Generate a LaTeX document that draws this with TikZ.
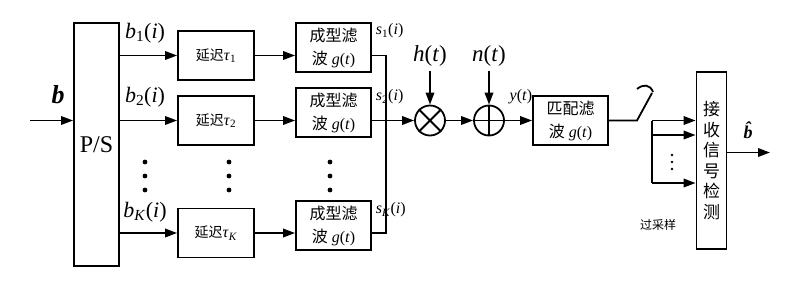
\documentclass[tikz,border=0pt]{standalone}
\usepackage{fontspec}
\setmainfont{Liberation Serif}
\newfontfamily\cjk{Noto Sans CJK SC}
\usetikzlibrary{arrows.meta}
\newcommand\fs[1]{\fontsize{#1}{#1}\selectfont}
\begin{document}
\begin{tikzpicture}[x=1pt,y=-1pt,line width=1.8pt,
  >={Triangle[length=12pt,width=8.5pt]},
  blk/.style={draw,fill=white,inner sep=0pt,align=center},
  dly/.style={blk,minimum width=76pt,minimum height=49pt},
  flt/.style={blk,minimum width=75pt,minimum height=49pt,font=\fs{16},execute at begin node={\setlength{\baselineskip}{23pt}}},
  lab/.style={inner sep=0pt},
  dotc/.style={fill=black}]
\useasboundingbox (0,0) rectangle (800,285);
% P/S
\node[blk,minimum width=45pt,minimum height=243pt,font=\fs{24}] (ps) at (96.5,144.5) {P/S};
\coordinate (in) at (30,120.5);
\draw[->] (in) -- (in -| ps.west);
\node[lab,font=\fs{26}\bfseries\itshape] (blab) at (58,95) {b};
% delays
\node[dly] (d1) at (216,55.5) {{\cjk\fs{14}延迟}\fs{16}\textit{τ}\textsubscript{1}};
\node[dly] (d2) at (216,120.5) {{\cjk\fs{14}延迟}\fs{16}\textit{τ}\textsubscript{2}};
\node[dly] (dK) at (216,233) {{\cjk\fs{14}延迟}\fs{16}\textit{τ}\textsubscript{\textit{K}}};
% filters
\node[flt] (f1) at (333.5,47.5) {{\cjk 成型滤}\\{\cjk 波} \textit{g}(\textit{t})};
\node[flt] (f2) at (333.5,112.5) {{\cjk 成型滤}\\{\cjk 波} \textit{g}(\textit{t})};
\node[flt] (fK) at (333.5,225.5) {{\cjk 成型滤}\\{\cjk 波} \textit{g}(\textit{t})};
% branch lines
\draw[->] (ps.east |- d1) -- (d1);
\draw[->] (ps.east |- d2) -- (d2);
\draw[->] (ps.east |- dK) -- (dK);
\draw[->] (d1) -- (d1 -| f1.west);
\draw[->] (d2) -- (d2 -| f2.west);
\draw[->] (dK) -- (dK -| fK.west);
% branch labels
\node[lab,font=\fs{22}] (lb1) at (145,33) {\textit{b}\textsubscript{1}(\textit{i})};
\node[lab,font=\fs{22}] (lb2) at (145,97) {\textit{b}\textsubscript{2}(\textit{i})};
\node[lab,font=\fs{22}] (lbK) at (145,212) {\textit{b}\textsubscript{\textit{K}}(\textit{i})};
% dots
\foreach \x in {145,229,330} \foreach \y in {162,176,190} \fill[dotc] (\x,\y) circle (2.4pt);
% bus
\coordinate (bus) at (386,0);
\draw (f1.east |- d1) -| (bus |- dK) -- (fK.east |- dK);
\node[lab,font=\fs{16},anchor=west] (s1) at (375,31) {\textit{s}\textsubscript{1}(\textit{i})};
\node[lab,font=\fs{16},anchor=west] (s2) at (375,97) {\textit{s}\textsubscript{2}(\textit{i})};
\node[lab,font=\fs{16},anchor=west] (sK) at (375,210) {\textit{s}\textsubscript{\textit{K}}(\textit{i})};
% multiplier and adder
\node[circle,draw,minimum size=30pt,inner sep=0pt] (mul) at (430,120.5) {};
\draw (mul.north west) -- (mul.south east) (mul.north east) -- (mul.south west);
\node[circle,draw,minimum size=30pt,inner sep=0pt] (add) at (489,120.5) {};
\draw (add.north) -- (add.south) (add.west) -- (add.east);
\node[lab,font=\fs{23}] (h) at (430,56) {\textit{h}(\textit{t})};
\node[lab,font=\fs{23}] (n) at (489,56) {\textit{n}(\textit{t})};
\draw[->] (h.south |- 0,71) -- (mul);
\draw[->] (n.south |- 0,71) -- (add);
\draw[->] (f2.east |- d2) -- (mul);
\draw[->] (mul) -- (add);
% matched filter
\node[flt] (mf) at (570.5,120.5) {{\cjk 匹配滤}\\{\cjk 波} \textit{g}(\textit{t})};
\draw[->] (add) -- (mf);
\node[lab,font=\fs{16}] (y) at (521,97) {\textit{y}(\textit{t})};
% switch
\coordinate (sw1) at (637,120.5);
\coordinate (sw2) at (652,93);
\draw (mf) -- (sw1) -- (sw2);
\draw (637,89) .. controls (643,84) and (650,84) .. (653,92);
% detector
\node[blk,minimum width=30pt,minimum height=177pt,font=\fs{17}\cjk,execute at begin node={\setlength{\baselineskip}{20.5pt}}] (det) at (711.5,160.5) {接\\收\\信\\号\\检\\测};
\coordinate (bk1) at (652,120.5);
\coordinate (bk2) at (652,135);
\coordinate (bk3) at (652,183);
\draw (bk1) -- (bk3);
\draw[->] (bk1) -- (bk1 -| det.west);
\draw[->] (bk2) -- (bk2 -| det.west);
\draw[->] (bk3) -- (bk3 -| det.west);
\foreach \y in {155,162,169} \fill[dotc] (672,\y) circle (1.3pt);
\node[lab,font=\fs{12}\cjk] (os) at (658,225) {过采样};
\coordinate (out) at (770,152.5);
\draw[->] (det.east |- out) -- (out);
\node[lab,font=\fs{18}\bfseries\itshape] (bh) at (748,130) {\^{b}};
\end{tikzpicture}
\end{document}
